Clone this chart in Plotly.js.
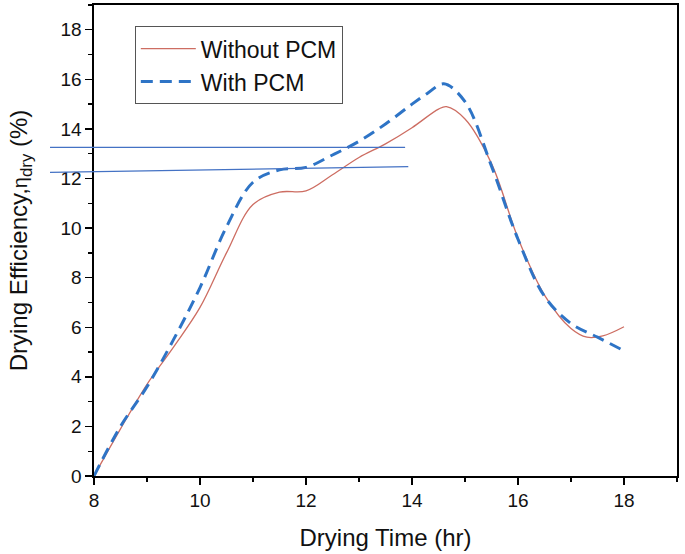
<!DOCTYPE html>
<html>
<head>
<meta charset="utf-8">
<script src="https://cdn.plot.ly/plotly-3.0.1.min.js"></script>
<style>html,body{margin:0;padding:0;background:#fff}#chart{width:685px;height:554px}</style>
</head>
<body>
<div id="chart"></div>
<script>
// Data
var timeWithout = [8, 8.5, 9, 9.5, 10, 10.5, 11, 11.5, 12, 12.5, 13, 13.5, 14, 14.5, 14.65, 15, 15.5, 16, 16.5, 17, 17.3, 17.6, 18];
var effWithout  = [0, 1.9, 3.7, 5.2, 6.8, 9.0, 10.95, 11.45, 11.5, 12.15, 12.85, 13.4, 14.05, 14.8, 14.9, 14.4, 12.6, 9.6, 7.3, 5.95, 5.6, 5.65, 6.02];
var timeWith    = [8, 8.5, 9, 9.5, 10, 10.5, 11, 11.5, 12, 12.5, 13, 13.5, 14, 14.3, 14.6, 15, 15.5, 16, 16.5, 17, 17.5, 18];
var effWith     = [0, 2.0, 3.6, 5.5, 7.6, 10.05, 11.85, 12.35, 12.45, 12.95, 13.5, 14.2, 15.0, 15.45, 15.82, 15.1, 12.5, 9.55, 7.25, 6.15, 5.6, 5.05];
var seriesNames = ["Without PCM", "With PCM"];
// Two reference lines drawn on the chart (x in hours, y in %)
var refLine1X = [7.17, 13.87];
var refLine1Y = [13.26, 13.26];
var refLine2X = [7.17, 13.93];
var refLine2Y = [12.25, 12.48];
var xTicks = [8, 10, 12, 14, 16, 18];
var yTicks = [0, 2, 4, 6, 8, 10, 12, 14, 16, 18];

var xRange = [8, 19];
var yRange = [0, 19];
function toPaperX(v){ return (v - xRange[0]) / (xRange[1] - xRange[0]); }

var font = "Liberation Sans, Arial, sans-serif";

var traces = [
  {x: timeWithout, y: effWithout, name: seriesNames[0], mode: "lines",
   line: {color: "#CD6D62", width: 1.3, shape: "spline", smoothing: 1}},
  {x: timeWith, y: effWith, name: seriesNames[1], mode: "lines",
   line: {color: "#2E74C6", width: 3, dash: "12px,7px", shape: "spline", smoothing: 1}}
];

function refShape(xs, ys){
  return {type: "line", xref: "paper", yref: "y",
    x0: toPaperX(xs[0]), x1: toPaperX(xs[1]), y0: ys[0], y1: ys[1],
    line: {color: "#4472C4", width: 1.3}, layer: "above"};
}

var axisCommon = {
  showline: true, linecolor: "#000", linewidth: 1.6, mirror: true,
  ticks: "outside", ticklen: 7, tickwidth: 1.4, tickcolor: "#000",
  showgrid: false, zeroline: false,
  tickfont: {family: font, size: 19, color: "#111"},
  minor: {ticks: "outside", ticklen: 4, tickwidth: 1.4, tickcolor: "#000", dtick: 1}
};

var layout = {
  width: 685, height: 554,
  margin: {l: 94, r: 8, t: 5, b: 78},
  paper_bgcolor: "#fff", plot_bgcolor: "#fff",
  showlegend: true,
  legend: {x: 0.07, y: 0.955, xanchor: "left", yanchor: "top",
    bgcolor: "#fff", bordercolor: "#555", borderwidth: 1,
    font: {family: font, size: 23, color: "#111"},
    itemwidth: 55, tracegroupgap: 0},
  xaxis: Object.assign({}, axisCommon, {
    range: xRange, tickmode: "array", tickvals: xTicks, ticktext: xTicks.map(String),
    title: {text: "Drying Time (hr)", font: {family: font, size: 24, color: "#111"}, standoff: 19}
  }),
  yaxis: Object.assign({}, axisCommon, {
    range: yRange, tickmode: "array", tickvals: yTicks, ticktext: yTicks.map(String),
    title: {text: "Drying Efficiency,<span style=\"font-size:20px\">η</span><sub>dry</sub> (%)", font: {family: font, size: 24, color: "#111"}, standoff: 26}
  }),
  shapes: [refShape(refLine1X, refLine1Y), refShape(refLine2X, refLine2Y)]
};

Plotly.newPlot("chart", traces, layout, {displayModeBar: false, staticPlot: true});
</script>
</body>
</html>
